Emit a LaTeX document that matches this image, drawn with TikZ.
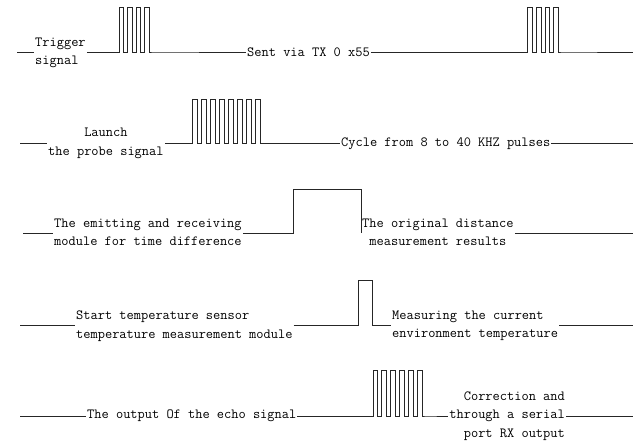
\documentclass[tikz,border=0pt]{standalone}
\usepackage{fontspec}
\begin{document}
\begin{tikzpicture}[x=1pt,y=-1pt,
  lbl/.style={font=\fontsize{14}{18.5}\selectfont\ttfamily, inner xsep=1pt, inner ysep=0pt},
  wave/.style={line width=0.9pt, black!85}]
\useasboundingbox (0,0) rectangle (637,442);

% ---------- Row 1 ----------
\coordinate (r1a) at (17,52);
\coordinate (r1z) at (633,52);
\node[lbl, anchor=west, align=left] (trig) at (34,53) {Trigger\\signal};
\node[lbl, anchor=west] (sent) at (246,52) {Sent via TX 0 x55};
\draw[wave] (r1a) -- (r1a -| trig.west);
\draw[wave] (trig.east |- r1a) -- (119.3,52)
  foreach \i in {1,...,4} { -- ++(0,-44.7) -- ++(4.5,0) -- ++(0,44.7) -- ++(4,0) }
  -- (sent.west);
\draw[wave] (sent.east) -- (527.3,52)
  foreach \i in {1,...,4} { -- ++(0,-44.7) -- ++(4.85,0) -- ++(0,44.7) -- ++(4,0) }
  -- (r1z);

% ---------- Row 2 ----------
\coordinate (r2a) at (20,143.3);
\coordinate (r2z) at (633,143.3);
\node[lbl, anchor=west, align=center] (launch) at (47,143.3) {Launch\\the probe signal};
\node[lbl, anchor=west] (cycle) at (340,143.3) {Cycle from 8 to 40 KHZ pulses};
\draw[wave] (r2a) -- (r2a -| launch.west);
\draw[wave] (launch.east |- r2a) -- (192.7,143.3)
  foreach \i in {1,...,8} { -- ++(0,-44.3) -- ++(5,0) -- ++(0,44.3) -- ++(4,0) }
  -- (cycle.west);
\draw[wave] (cycle.east) -- (r2z);

% ---------- Row 3 ----------
\coordinate (r3a) at (23,233.3);
\coordinate (r3z) at (633,233.3);
\node[lbl, anchor=west, align=left] (emit) at (53,232.5) {The emitting and receiving\\module for time difference};
\node[lbl, anchor=west, align=center] (orig) at (361,232.5) {The original distance\\measurement results};
\draw[wave] (r3a) -- (r3a -| emit.west);
\draw[wave] (emit.east |- r3a) -- (293,233.3) -- (293,189) -- (361,189) -- (361,233.3) -- (orig.west |- r3a);
\draw[wave] (orig.east |- r3a) -- (r3z);

% ---------- Row 4 ----------
\coordinate (r4a) at (20,325);
\coordinate (r4z) at (633,325);
\node[lbl, anchor=west, align=left] (start) at (75,326) {Start temperature sensor\\temperature measurement module};
\node[lbl, anchor=west, align=left] (meas) at (391,326) {Measuring the current\\environment temperature};
\draw[wave] (r4a) -- (r4a -| start.west);
\draw[wave] (start.east |- r4a) -- (358,325) -- (358,280) -- (372,280) -- (372,325) -- (meas.west |- r4a);
\draw[wave] (meas.east |- r4a) -- (r4z);

% ---------- Row 5 ----------
\coordinate (r5a) at (20,416);
\coordinate (r5z) at (633,416);
\node[lbl, anchor=west] (echo) at (86,416) {The output Of the echo signal};
\node[lbl, anchor=east, align=right] (outp) at (566,416) {Correction and\\through a serial\\port RX output};
\draw[wave] (r5a) -- (echo.west);
\draw[wave] (echo.east) -- (373,416)
  foreach \i in {1,...,6} { -- ++(0,-46) -- ++(4.85,0) -- ++(0,46) -- ++(4,0) }
  -- (outp.west);
\draw[wave] (outp.east) -- (r5z);
\end{tikzpicture}
\end{document}
